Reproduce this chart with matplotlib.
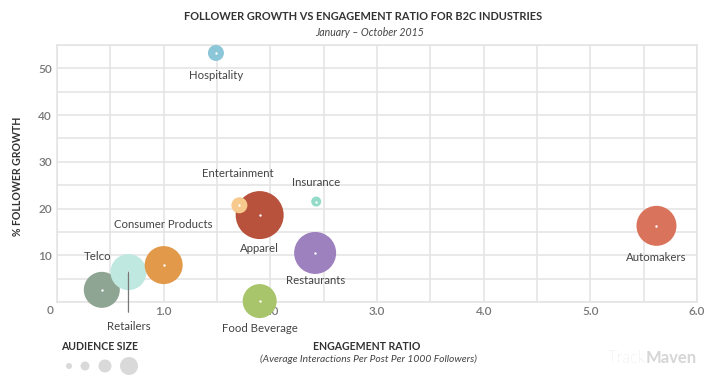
import numpy as np
import matplotlib
matplotlib.use("Agg")
import matplotlib.pyplot as plt

plt.rcParams['font.family'] = ['Lato', 'DejaVu Sans']

# ---------------- data ----------------
industries = ["Telco", "Retailers", "Consumer Products", "Hospitality", "Apparel",
              "Entertainment", "Insurance", "Restaurants", "Food Beverage", "Automakers"]
engagement_ratio = [0.42, 0.67, 1.00, 1.49, 1.90, 1.71, 2.43, 2.42, 1.90, 5.62]
follower_growth = [2.6, 6.4, 7.9, 53.3, 18.6, 20.7, 21.5, 10.5, 0.2, 16.3]
audience_size = [18, 18, 19, 8, 24, 8, 5, 21, 17, 20]   # relative bubble radius
colors = ["#8ea593", "#bfe8e0", "#e29a4a", "#8cc6d9", "#b8523d",
          "#f7c98c", "#93dbc9", "#9d80be", "#a9c56b", "#da735b"]
x_ticks = [1, 2, 3, 4, 5, 6]
x_tick_labels = ["1.0", "2.0", "3.0", "4.0", "5.0", "6.0"]
y_ticks = [10, 20, 30, 40, 50]
y_tick_labels = ["10", "20", "30", "40", "50"]
legend_sizes = [3, 4.5, 6.5, 9]

# label offsets in pixels relative to bubble centre (style/layout)
label_offsets = {
    "Telco": (-4, 33), "Retailers": (0, -54), "Consumer Products": (0, 41),
    "Hospitality": (0, -23), "Apparel": (0, -33), "Entertainment": (-2, 32),
    "Insurance": (0, 19), "Restaurants": (0, -28), "Food Beverage": (0, -27),
    "Automakers": (0, -32),
}

W, H = 712, 383
fig = plt.figure(figsize=(W / 100, H / 100), dpi=100)
ax = fig.add_axes([57 / W, 81 / H, 640 / W, 257 / H])
ax.set_xlim(0, 6)
ax.set_ylim(0, 55)

grid_c = "#e3e3e3"
ax.set_xticks(np.arange(0, 6.01, 0.5), minor=True)
ax.set_yticks(np.arange(0, 55.1, 5), minor=True)
ax.set_xticks(x_ticks)
ax.set_xticklabels(x_tick_labels)
ax.set_yticks(y_ticks)
ax.set_yticklabels(y_tick_labels)
ax.grid(which="both", color=grid_c, linewidth=1.1)
ax.set_axisbelow(True)
ax.tick_params(which="both", length=0, colors="#777777", labelsize=8.5)
ax.tick_params(axis="x", pad=3)
ax.tick_params(axis="y", pad=3.5)
for lab in ax.get_xticklabels() + ax.get_yticklabels():
    lab.set_fontweight("semibold")
for s in ax.spines.values():
    s.set_color(grid_c)
    s.set_linewidth(1.1)

# bubbles
sizes = [(2 * r * 0.72) ** 2 for r in audience_size]
ax.scatter(engagement_ratio, follower_growth, s=sizes, c=colors,
           linewidths=0, zorder=3, clip_on=False)
ax.scatter(engagement_ratio, follower_growth, s=3, c="white",
           linewidths=0, zorder=4, clip_on=False)

lab_kw = dict(ha="center", va="center", fontsize=8.2, color="#444444",
              annotation_clip=False, zorder=5)
for name, x, y in zip(industries, engagement_ratio, follower_growth):
    dx, dy = label_offsets[name]
    if name == "Retailers":
        ax.annotate(name, xy=(x, y), xytext=(dx, dy), textcoords="offset pixels",
                    arrowprops=dict(arrowstyle="-", color="#777777", lw=0.9,
                                    shrinkA=4, shrinkB=0, relpos=(0.5, 1.0)),
                    **lab_kw)
    else:
        ax.annotate(name, xy=(x, y), xytext=(dx, dy), textcoords="offset pixels",
                    **lab_kw)

ax.annotate("0", xy=(0, 0), xytext=(-7, -8), textcoords="offset pixels",
            ha="center", va="center", fontsize=8.5, color="#777777",
            fontweight="semibold", annotation_clip=False)

# titles
fig.text(363 / W, 1 - 17 / H, "FOLLOWER GROWTH VS ENGAGEMENT RATIO FOR B2C INDUSTRIES",
         ha="center", va="center", fontsize=7.9, fontweight="bold", color="#333333")
fig.text(370 / W, 1 - 32 / H, "January \u2013 October 2015",
         ha="center", va="center", fontsize=7.6, style="italic", color="#444444")

fig.text(367 / W, 1 - 346 / H, "ENGAGEMENT RATIO", ha="center", va="center",
         fontsize=7.6, fontweight="bold", color="#333333")
fig.text(368 / W, 1 - 359 / H, "(Average Interactions Per Post Per 1000 Followers)",
         ha="center", va="center", fontsize=7.4, style="italic", color="#444444")
fig.text(18 / W, 1 - 176 / H, "% FOLLOWER GROWTH", ha="center", va="center",
         rotation=90, fontsize=7.6, fontweight="bold", color="#333333")

# audience size legend
fig.text(100 / W, 1 - 346 / H, "AUDIENCE SIZE", ha="center", va="center",
         fontsize=7.6, fontweight="bold", color="#333333")
leg_x = [69 / W, 85 / W, 105 / W, 129 / W]
leg_y = [1 - 366 / H] * 4
ax.scatter(leg_x, leg_y, s=[(2 * r * 0.72) ** 2 for r in legend_sizes],
           c="#d9d9d9", linewidths=0, transform=fig.transFigure, clip_on=False)

# watermark
t2 = fig.text(697 / W, 1 - 358 / H, "Maven", ha="right", va="center",
              fontsize=12, fontweight="bold", color="#d6d6d6")
fig.canvas.draw()
bb = t2.get_window_extent()
fig.text(bb.x0 / W, 1 - 358 / H, "Track", ha="right", va="center",
         fontsize=12, fontweight="light", color="#d6d6d6")

fig.savefig("out.png", dpi=100)
